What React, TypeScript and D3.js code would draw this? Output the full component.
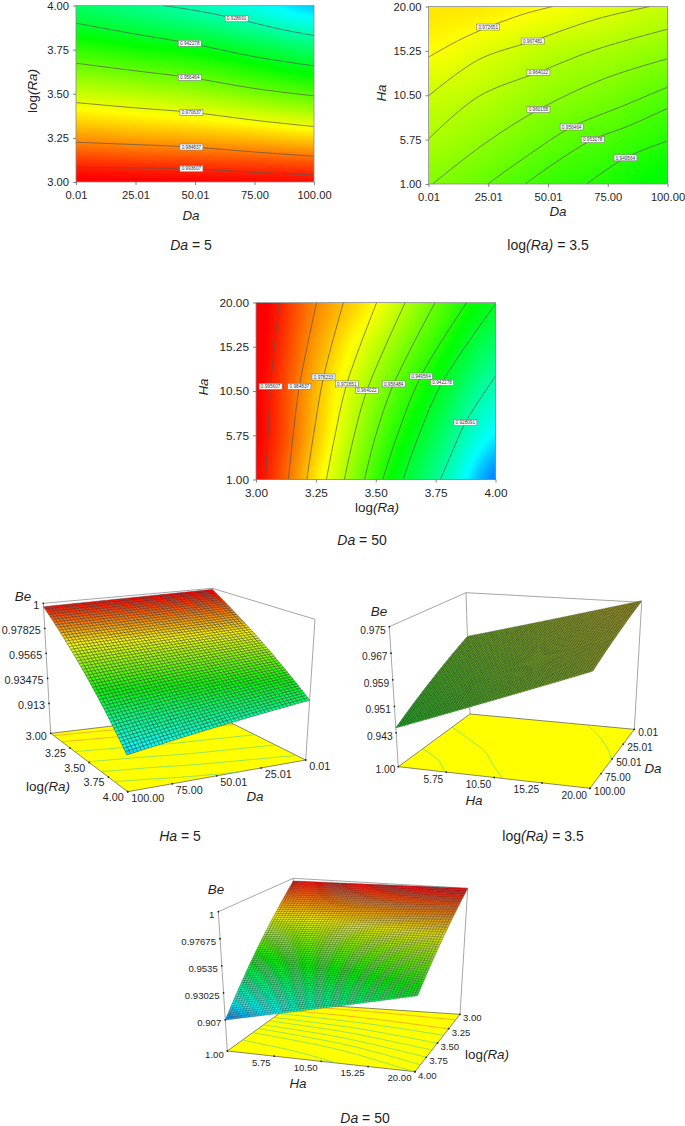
import React, { useEffect, useRef } from 'react';
import * as d3 from 'd3';

type Pt = [number, number];

// axes
const daTicks = [0.01, 25.01, 50.01, 75, 100];
const logRaTicks = [3, 3.25, 3.5, 3.75, 4];
const haTicks = [1, 5.75, 10.5, 15.25, 20];

// shared colour bar (Be value -> colour)
const colorValues = [0.897, 0.917, 0.946, 0.973, 0.998];
const colorNames = ['#0000ff', '#00ffff', '#00ff00', '#ffff00', '#ff0000'];

const beDaLogRa = [
  [0.999, 0.9985, 0.998, 0.9975, 0.997],
  [0.9835, 0.982, 0.981, 0.9795, 0.9775],
  [0.9675, 0.9655, 0.963, 0.959, 0.955],
  [0.951, 0.948, 0.945, 0.94, 0.9345],
  [0.935, 0.931, 0.926, 0.9195, 0.913],
];
const beDaHa = [
  [0.9598, 0.9564, 0.952, 0.949, 0.9445],
  [0.964, 0.9608, 0.9566, 0.9535, 0.9497],
  [0.9675, 0.9652, 0.9613, 0.9586, 0.9548],
  [0.9728, 0.9695, 0.9658, 0.9636, 0.961],
  [0.9755, 0.975, 0.9726, 0.9697, 0.9665],
];
const beLogRaHa = [
  [0.9975, 0.9755, 0.952, 0.93, 0.907],
  [0.9985, 0.9788, 0.9564, 0.9368, 0.916],
  [0.9985, 0.98, 0.961, 0.9435, 0.925],
  [0.9995, 0.9825, 0.9665, 0.9506, 0.934],
  [1, 0.985, 0.9726, 0.9565, 0.9423],
];

// contour lines
const levelsDaLogRa = ['0.928691', '0.942278', '0.956464', '0.970637', '0.984837', '0.993607'];
const valuesDaLogRa = [0.9287, 0.9423, 0.9565, 0.9706, 0.9848, 0.9936];
const contoursDaLogRa: Pt[][] = [
  [[36.6, 4], [50, 3.972], [67.5, 3.925], [85, 3.868], [100, 3.83]],
  [[0.01, 3.9], [25, 3.838], [47.8, 3.786], [75, 3.71], [100, 3.658]],
  [[0.01, 3.673], [25, 3.63], [47.8, 3.592], [75, 3.53], [100, 3.488]],
  [[0.01, 3.45], [25, 3.42], [48.5, 3.395], [75, 3.35], [100, 3.314]],
  [[0.01, 3.225], [25, 3.212], [48.5, 3.198], [75, 3.17], [100, 3.146]],
  [[0.01, 3.083], [25, 3.08], [48.5, 3.075], [75, 3.055], [100, 3.04]],
];
const labelsDaLogRa: Pt[] = [[67.5, 3.925], [47.8, 3.786], [47.8, 3.592], [48.5, 3.395], [48.5, 3.198], [48.5, 3.075]];

const levelsDaHa = ['0.972651', '0.967481', '0.964022', '0.960158', '0.956464', '0.953278', '0.949564'];
const valuesDaHa = [0.9726, 0.9675, 0.964, 0.9601, 0.9564, 0.9532, 0.9495];
const contoursDaHa: Pt[][] = [
  [[0.01, 14.57], [12.5, 16.36], [25, 17.8], [40, 19.2], [52, 20]],
  [[0.01, 10.43], [20.9, 14.3], [43.6, 16.3], [69.6, 18.6], [92.6, 20]],
  [[0.01, 5.82], [20.9, 10.36], [46, 12.96], [69.6, 15.35], [100, 17.57]],
  [[1.7, 1], [23.7, 5.36], [46, 8.96], [73.8, 12.3], [100, 14.4]],
  [[24.8, 1], [41.8, 4.1], [59.9, 7.1], [80.8, 9.3], [100, 11.36]],
  [[40.4, 1], [54.3, 3.5], [68.7, 5.75], [83.6, 7.2], [100, 9.1]],
  [[66.2, 1], [82.4, 3.8], [100, 5.6]],
];
const labelsDaHa: Pt[] = [[25, 17.8], [43.6, 16.3], [46, 12.96], [46, 8.96], [59.9, 7.1], [68.7, 5.75], [82.4, 3.8]];

const levelsLogRaHa = ['0.995607', '0.984837', '0.978233', '0.972651', '0.964022', '0.956484', '0.949564', '0.942278', '0.928091'];
const valuesLogRaHa = [0.9936, 0.9848, 0.978, 0.9726, 0.964, 0.9564, 0.9495, 0.9423, 0.9281];
const contoursLogRaHa: Pt[][] = [
  [[3.04, 1], [3.05, 5.75], [3.061, 11], [3.097, 20]],
  [[3.135, 1], [3.155, 5.75], [3.181, 11], [3.253, 20]],
  [[3.212, 1], [3.24, 5.75], [3.282, 12], [3.365, 20]],
  [[3.294, 1], [3.33, 5.75], [3.379, 11.26], [3.504, 20]],
  [[3.369, 1], [3.41, 5.75], [3.463, 10.55], [3.623, 20]],
  [[3.453, 1], [3.5, 5.75], [3.575, 11.26], [3.748, 20]],
  [[3.529, 1], [3.59, 5.75], [3.689, 12.1], [3.88, 20]],
  [[3.614, 1], [3.68, 5.75], [3.777, 11.4], [3.999, 19.8]],
  [[3.77, 1], [3.82, 4], [3.874, 7.1], [4, 12.1]],
];
const labelsLogRaHa: Pt[] = [[3.061, 11], [3.181, 11], [3.282, 12], [3.379, 11.26], [3.463, 10.55], [3.575, 11.26], [3.689, 12.1], [3.777, 11.4], [3.874, 7.1]];

// Be axis ticks of the 3D views
const beTicksHa5 = [0.913, 0.93475, 0.9565, 0.97825, 1];
const beTicksRa35 = [0.943, 0.951, 0.959, 0.967, 0.975];
const beTicksDa50 = [0.907, 0.93025, 0.9535, 0.97675, 1];

// floor contours hidden on the yellow in the middle view
const floorLinesRa35 = [0, 4, 6];

const FONT = '"Liberation Sans", Arial, sans-serif';
const TEXT = '#1f1f1f';

const colorScale = d3.scaleLinear<string>().domain(colorValues).range(colorNames).clamp(true);

const cubic = (vals: number[], f: number) => {
  const n = vals.length;
  const i = Math.min(Math.floor(f), n - 2);
  const t = f - i;
  const p0 = vals[Math.max(i - 1, 0)];
  const p1 = vals[i];
  const p2 = vals[i + 1];
  const p3 = vals[Math.min(i + 2, n - 1)];
  return p1 + 0.5 * t * (p2 - p0 + t * (2 * p0 - 5 * p1 + 4 * p2 - p3 + t * (3 * (p1 - p2) + p3 - p0)));
};

const gridField = (grid: number[][], xs: number[], ys: number[]) => {
  const xi = d3.scaleLinear().domain(xs).range(d3.range(xs.length)).clamp(true);
  const yi = d3.scaleLinear().domain(ys).range(d3.range(ys.length)).clamp(true);
  return (x: number, y: number) => cubic(grid.map(r => cubic(r, xi(x))), yi(y));
};

// the 3D surfaces are close to planar, they only need the four corners
const cornerField = (grid: number[][], xs: number[], ys: number[]) => {
  const xi = d3.scaleLinear().domain(d3.extent(xs) as Pt).range([0, 1]);
  const yi = d3.scaleLinear().domain(d3.extent(ys) as Pt).range([0, 1]);
  const last = grid.length - 1;
  return (x: number, y: number) => {
    const top = d3.interpolateNumber(grid[0][0], grid[0][last])(xi(x));
    const bottom = d3.interpolateNumber(grid[last][0], grid[last][last])(xi(x));
    return d3.interpolateNumber(top, bottom)(yi(y));
  };
};

const richText = (parent: any, x: number, y: number, parts: [string, boolean][], size: number, rotate = 0) => {
  const t = parent.append('text')
    .attr('text-anchor', 'middle')
    .attr('font-family', FONT)
    .attr('font-size', size)
    .attr('fill', TEXT)
    .attr('transform', `translate(${x},${y}) rotate(${rotate})`)
    .attr('dy', '0.35em');
  parts.forEach(([s, it]) => {
    t.append('tspan').attr('font-style', it ? 'italic' : 'normal').text(s);
  });
};

const LOG_RA: [string, boolean][] = [['log', false], ['(Ra)', true]];
const DA: [string, boolean][] = [['Da', true]];
const HA: [string, boolean][] = [['Ha', true]];
const BE: [string, boolean][] = [['Be', true]];

function drawContourPanel(svg: any, o: any) {
  const x = d3.scaleLinear().domain(d3.extent(o.xTicks) as Pt).range([o.left, o.right]);
  const y = d3.scaleLinear().domain(d3.extent(o.yTicks) as Pt).range([o.bottom, o.top]);
  const g = svg.append('g');
  const field = gridField(o.grid, o.xTicks, o.yTicks);

  const step = 2;
  for (let px = o.left; px < o.right; px += step) {
    for (let py = o.top; py < o.bottom; py += step) {
      g.append('rect')
        .attr('x', px).attr('y', py)
        .attr('width', Math.min(step, o.right - px))
        .attr('height', Math.min(step, o.bottom - py))
        .attr('shape-rendering', 'crispEdges')
        .attr('fill', colorScale(field(x.invert(px + 1), y.invert(py + 1))));
    }
  }

  const line = d3.line<Pt>().x(d => x(d[0])).y(d => y(d[1])).curve(d3.curveCatmullRom);
  o.contours.forEach((c: Pt[]) => {
    g.append('path').attr('d', line(c)).attr('fill', 'none')
      .attr('stroke', '#555').attr('stroke-width', 0.7);
  });

  o.labelPoints.forEach((p: Pt, i: number) => {
    g.append('rect')
      .attr('x', x(p[0]) - 11.5).attr('y', y(p[1]) - 3)
      .attr('width', 23).attr('height', 6)
      .attr('fill', '#fff').attr('stroke', '#777').attr('stroke-width', 0.6);
    g.append('text')
      .attr('x', x(p[0])).attr('y', y(p[1]) + 1.7)
      .attr('text-anchor', 'middle')
      .attr('font-family', FONT).attr('font-size', 4.7).attr('fill', '#333')
      .text(o.labels[i]);
  });

  g.append('rect')
    .attr('x', o.left).attr('y', o.top)
    .attr('width', o.right - o.left).attr('height', o.bottom - o.top)
    .attr('fill', 'none').attr('stroke', '#8a8a8a').attr('stroke-width', 0.8);

  const fmt = d3.format('.2f');
  const ax = g.append('g').attr('transform', `translate(0,${o.bottom})`)
    .call(d3.axisBottom(x).tickValues(o.xTicks).tickFormat(fmt as any).tickSize(3).tickPadding(6).tickSizeOuter(0));
  const ay = g.append('g').attr('transform', `translate(${o.left},0)`)
    .call(d3.axisLeft(y).tickValues(o.yTicks).tickFormat(fmt as any).tickSize(3).tickPadding(4).tickSizeOuter(0));
  [ax, ay].forEach((a) => {
    a.select('.domain').remove();
    a.selectAll('line').attr('stroke', '#666').attr('stroke-width', 0.8);
    a.selectAll('text').attr('font-family', FONT).attr('font-size', o.tickSize).attr('fill', TEXT);
  });

  richText(svg, o.xTitle[0], o.xTitle[1], o.xTitleParts, 13.4);
  richText(svg, o.yTitle[0], o.yTitle[1], o.yTitleParts, 13.4, -90);
  richText(svg, o.caption[0], o.caption[1], o.captionParts, 14);
}

function drawSurfacePanel(svg: any, o: any) {
  const u = d3.scaleLinear().domain(d3.extent(o.xTicks) as Pt).range([0, 1]);
  const v = d3.scaleLinear().domain(d3.extent(o.yTicks) as Pt).range([0, 1]);
  const w = d3.scaleLinear().domain([o.zFloor, o.zTop]).range([0, 1]);
  const bilinear = (c: Pt[], a: number, b: number): Pt => {
    const ix = d3.interpolateNumber;
    return [
      ix(ix(c[0][0], c[1][0])(a), ix(c[3][0], c[2][0])(a))(b),
      ix(ix(c[0][1], c[1][1])(a), ix(c[3][1], c[2][1])(a))(b),
    ];
  };
  // x value, y value (rows run along v), Be value
  const project = (xv: number, yv: number, z: number): Pt => {
    const a = u(xv);
    const b = v(yv);
    const f = bilinear(o.floor, a, b);
    const t = bilinear(o.ceil, a, b);
    const k = w(z);
    return [f[0] + (t[0] - f[0]) * k, f[1] + (t[1] - f[1]) * k];
  };

  const g = svg.append('g');
  const frame = { stroke: '#8f8f8f', 'stroke-width': 0.8 };
  o.frameCorners.forEach((i: number) => {
    g.append('line')
      .attr('x1', o.floor[i][0]).attr('y1', o.floor[i][1])
      .attr('x2', o.ceil[i][0]).attr('y2', o.ceil[i][1])
      .attr('stroke', frame.stroke).attr('stroke-width', frame['stroke-width']);
  });
  g.append('path')
    .attr('d', d3.line()(o.frameCorners.map((i: number) => o.ceil[i])))
    .attr('fill', 'none').attr('stroke', frame.stroke).attr('stroke-width', frame['stroke-width']);

  // floor
  g.append('polygon')
    .attr('points', o.floor.map((p: Pt) => p.join(',')).join(' '))
    .attr('fill', '#ffff00').attr('stroke', '#555').attr('stroke-width', 0.7);
  const floorLine = d3.line<Pt>().curve(d3.curveCatmullRom);
  o.contours.forEach((c: Pt[], i: number) => {
    if (o.floorLines && !o.floorLines.includes(i)) return;
    const pts = c.map(d => project(d[0], d[1], o.zFloor));
    g.append('path').attr('d', floorLine(pts)).attr('fill', 'none')
      .attr('stroke', o.levels[i] > 0.98 ? '#f0a030' : '#78de6e').attr('stroke-width', 0.8);
  });

  // surface
  const field = cornerField(o.grid, o.xTicks, o.yTicks);
  const nx = d3.scaleLinear().domain([0, o.mesh]).range(d3.extent(o.xTicks) as Pt);
  const ny = d3.scaleLinear().domain([0, o.mesh]).range(d3.extent(o.yTicks) as Pt);
  const cells = g.append('g').attr('stroke', '#2c2c2c').attr('stroke-width', o.meshWidth);
  d3.range(o.mesh).forEach((j) => {
    d3.range(o.mesh).forEach((i) => {
      const corners: Pt[] = [[nx(i), ny(j)], [nx(i + 1), ny(j)], [nx(i + 1), ny(j + 1)], [nx(i), ny(j + 1)]];
      const pts = corners.map(c => project(c[0], c[1], field(c[0], c[1])));
      cells.append('polygon')
        .attr('points', pts.map(p => p.join(',')).join(' '))
        .attr('fill', colorScale(field(nx(i + 0.5), ny(j + 0.5))));
    });
  });

  // axes of the box
  const tick = (p: Pt) => g.append('circle').attr('cx', p[0]).attr('cy', p[1]).attr('r', 0.9).attr('fill', '#222');
  const label = (p: Pt, s: string, a: any, size: number) => g.append('text')
    .attr('x', p[0] + a.dx).attr('y', p[1] + a.dy)
    .attr('text-anchor', a.anchor)
    .attr('font-family', FONT).attr('font-size', size).attr('fill', TEXT)
    .text(s);
  const fmt = d3.format('.2f');
  o.xTicks.forEach((t: number, i: number) => {
    const p = project(t, o.xAxisAt, o.zFloor);
    tick(p);
    const a = i === o.xAxis.firstIndex ? { ...o.xAxis, dy: o.xAxis.firstDy } : o.xAxis;
    label(p, fmt(t), a, o.tickSize);
  });
  o.yTicks.forEach((t: number, i: number) => {
    const p = project(o.yAxisAt, t, o.zFloor);
    tick(p);
    const a = i === o.yAxis.firstIndex ? { ...o.yAxis, dy: o.yAxis.firstDy } : o.yAxis;
    label(p, fmt(t), a, o.tickSize);
  });
  o.zTicks.forEach((t: number) => {
    const k = w(t);
    const f = o.floor[o.zCorner];
    const c = o.ceil[o.zCorner];
    const p: Pt = [f[0] + (c[0] - f[0]) * k, f[1] + (c[1] - f[1]) * k];
    tick(p);
    label(p, String(t), o.zAxis, o.tickSize);
  });

  o.titles.forEach((tt: any) => richText(svg, tt.at[0], tt.at[1], tt.parts, 13.4));
  richText(svg, o.caption[0], o.caption[1], o.captionParts, 14);
}

export default function App() {
  const ref = useRef<SVGSVGElement>(null);

  useEffect(() => {
    const svg = d3.select(ref.current);
    svg.selectAll('*').remove();

    drawContourPanel(svg, {
      left: 76, right: 314, top: 5.5, bottom: 182,
      xTicks: daTicks, yTicks: logRaTicks, grid: beDaLogRa,
      contours: contoursDaLogRa, labelPoints: labelsDaLogRa, labels: levelsDaLogRa,
      tickSize: 11.2,
      xTitle: [191, 215], xTitleParts: DA,
      yTitle: [32, 91], yTitleParts: LOG_RA,
      caption: [191, 245], captionParts: [['Da', true], [' = 5', false]],
    });
    drawContourPanel(svg, {
      left: 428.5, right: 667.5, top: 6.5, bottom: 184,
      xTicks: daTicks, yTicks: haTicks, grid: beDaHa,
      contours: contoursDaHa, labelPoints: labelsDaHa, labels: levelsDaHa,
      tickSize: 11.2,
      xTitle: [558, 211], xTitleParts: DA,
      yTitle: [381, 93], yTitleParts: HA,
      caption: [548, 245], captionParts: [['log', false], ['(Ra)', true], [' = 3.5', false]],
    });
    drawContourPanel(svg, {
      left: 256, right: 495.5, top: 302.5, bottom: 479.5,
      xTicks: logRaTicks, yTicks: haTicks, grid: beLogRaHa,
      contours: contoursLogRaHa, labelPoints: labelsLogRaHa, labels: levelsLogRaHa,
      tickSize: 11.8,
      xTitle: [377, 507], xTitleParts: LOG_RA,
      yTitle: [203, 387], yTitleParts: HA,
      caption: [362, 540], captionParts: [['Da', true], [' = 50', false]],
    });

    drawSurfacePanel(svg, {
      xTicks: daTicks, yTicks: logRaTicks, grid: beDaLogRa,
      contours: contoursDaLogRa, levels: valuesDaLogRa,
      zFloor: 0.887, zTop: 1, zTicks: beTicksHa5, zCorner: 1,
      floor: [[213.3, 714], [50.7, 733.3], [127.7, 791.7], [305.7, 760]],
      ceil: [[212.3, 588.3], [43.3, 603.3], [124, 632.3], [315, 619.3]],
      frameCorners: [1, 0, 3],
      mesh: 50, meshWidth: 0.4, tickSize: 10.8,
      xAxisAt: 4, yAxisAt: 100,
      xAxis: { anchor: 'start', dx: 3.5, dy: 10 },
      yAxis: { anchor: 'end', dx: -4, dy: 9, firstIndex: 0, firstDy: 7 },
      zAxis: { anchor: 'end', dx: -4, dy: 6 },
      titles: [{ at: [23, 596], parts: BE }, { at: [48, 786], parts: LOG_RA }, { at: [255, 796], parts: DA }],
      caption: [180, 836], captionParts: [['Ha', true], [' = 5', false]],
    });
    drawSurfacePanel(svg, {
      xTicks: haTicks, yTicks: daTicks, grid: beDaHaByHa(),
      contours: contoursDaHa.map(c => c.map(d => [d[1], d[0]] as Pt)), levels: valuesDaHa,
      floorLines: floorLinesRa35,
      zFloor: 0.9328, zTop: 0.975, zTicks: beTicksRa35, zCorner: 3,
      floor: [[470, 714], [634.3, 729.3], [590, 788.3], [398.3, 766.7]],
      ceil: [[466, 592.7], [641.7, 602.3], [593.3, 641.7], [389.3, 626.7]],
      frameCorners: [3, 0, 1],
      mesh: 64, meshWidth: 0.45, tickSize: 10.2,
      xAxisAt: 100, yAxisAt: 20,
      xAxis: { anchor: 'end', dx: -3, dy: 10.5, firstIndex: 0, firstDy: 6 },
      yAxis: { anchor: 'start', dx: 4, dy: 7 },
      zAxis: { anchor: 'end', dx: -3.5, dy: 7 },
      titles: [{ at: [379, 611], parts: BE }, { at: [653, 768], parts: DA }, { at: [474, 800], parts: HA }],
      caption: [543, 836], captionParts: [['log', false], ['(Ra)', true], [' = 3.5', false]],
    });
    drawSurfacePanel(svg, {
      xTicks: haTicks, yTicks: logRaTicks, grid: beLogRaByHa(),
      contours: contoursLogRaHa.map(c => c.map(d => [d[1], d[0]] as Pt)), levels: valuesLogRaHa,
      zFloor: 0.8803, zTop: 1, zTicks: beTicksDa50, zCorner: 3,
      floor: [[293.3, 1003.3], [460, 1014.3], [415, 1071.7], [227.3, 1051]],
      ceil: [[293.3, 878.3], [467.7, 888.3], [420, 925], [218.3, 911.7]],
      frameCorners: [3, 0, 1],
      mesh: 64, meshWidth: 0.3, tickSize: 9.6,
      xAxisAt: 4, yAxisAt: 20,
      xAxis: { anchor: 'end', dx: -3.5, dy: 9.5, firstIndex: 0, firstDy: 7 },
      yAxis: { anchor: 'start', dx: 3, dy: 7 },
      zAxis: { anchor: 'end', dx: -4, dy: 6.5 },
      titles: [{ at: [216, 889], parts: BE }, { at: [298, 1083], parts: HA }, { at: [487, 1054], parts: LOG_RA }],
      caption: [365, 1118], captionParts: [['Da', true], [' = 50', false]],
    });
  }, []);

  return (
    <svg
      ref={ref}
      width={685}
      height={1126}
      style={{ position: 'absolute', left: 0, top: 0, display: 'block', background: '#fff' }}
    />
  );
}

// the 3D views swap x and y compared with the contour plots
function beDaHaByHa() {
  return daTicks.map((_, i) => haTicks.map((__, j) => beDaHa[j][i]));
}
function beLogRaByHa() {
  return logRaTicks.map((_, i) => haTicks.map((__, j) => beLogRaHa[j][i]));
}
